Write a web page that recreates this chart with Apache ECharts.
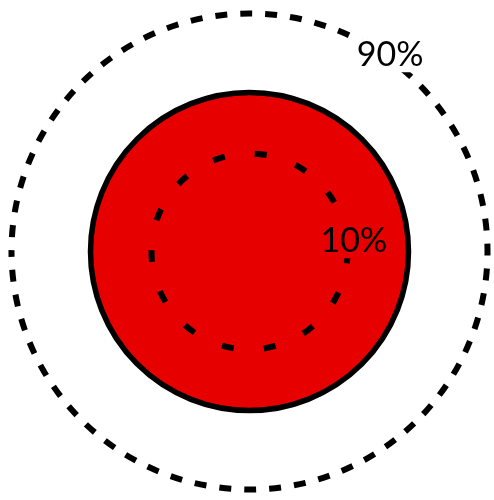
<!DOCTYPE html>
<html>
<head>
<meta charset="utf-8">
<script src="https://cdn.jsdelivr.net/npm/echarts@6/dist/echarts.min.js"></script>
<style>
  html, body { margin: 0; padding: 0; background: #fff; }
  #chart { width: 494px; height: 500px; }
</style>
</head>
<body>
<div id="chart"></div>
<script>
// Radii on a shared radial scale (0 .. 250)
const bandNames = ['10%', '90%'];
const bandRadii = [98, 238];          // dashed percentile rings
const bandLabelAngles = [6, 54.5];    // where each ring's label sits (degrees, counter-clockwise from 3 o'clock)
const valueRadius = [159];            // filled disc

const chart = echarts.init(document.getElementById('chart'), null, { renderer: 'canvas' });

const center = [249.5, 251.5];
const polarRadius = 250;
const RED = '#e60000';

// one polar system per layer: 0 = outer ring, 1 = disc, 2 = inner ring, 3 = labels
// (the ring start angle sets where each dashed outline begins)
const ringStart = [180, 0, 0];
const polars = [0, 1, 2, 3].map(() => ({ center: center, radius: polarRadius }));
const angleAxes = [0, 1, 2].map(i => ({
  polarIndex: i, type: 'category', data: ['all'], startAngle: ringStart[i], show: false
}));
angleAxes.push({ polarIndex: 3, type: 'value', min: 0, max: 360, startAngle: 0, clockwise: false, show: false });
const radiusAxes = [0, 1, 2, 3].map(i => ({ polarIndex: i, type: 'value', min: 0, max: 250, show: false }));

const ringStyle = (dash, offset) => ({
  color: 'rgba(0,0,0,0)',
  borderColor: '#000',
  borderWidth: 6,
  borderType: dash,
  borderDashOffset: offset
});

const discSeries = (name, polarIndex, data, itemStyle, z) => ({
  name: name,
  type: 'bar',
  coordinateSystem: 'polar',
  polarIndex: polarIndex,
  barWidth: '100%',
  data: data,
  itemStyle: itemStyle,
  silent: true,
  z: z
});

const labelOffsets = [[7, 0], [2.5, -2.5]];

chart.setOption({
  animation: false,
  backgroundColor: '#fff',
  polar: polars,
  angleAxis: angleAxes,
  radiusAxis: radiusAxes,
  series: [
    discSeries(bandNames[1], 0, [bandRadii[1]], ringStyle([12, 13], 10.6), 1),
    discSeries('value', 1, valueRadius, { color: RED, borderColor: '#000', borderWidth: 5.5 }, 2),
    discSeries(bandNames[0], 2, [bandRadii[0]], ringStyle([12, 30.4], 0), 3),
    {
      name: 'labels',
      type: 'scatter',
      coordinateSystem: 'polar',
      polarIndex: 3,
      symbolSize: 0,
      silent: true,
      z: 10,
      itemStyle: { opacity: 1 },
      data: bandNames.map((n, i) => ({
        name: n,
        value: [bandRadii[i], bandLabelAngles[i]],
        label: { backgroundColor: i === 0 ? RED : '#fff', offset: labelOffsets[i] }
      })),
      label: {
        show: true,
        position: 'inside',
        formatter: p => p.name,
        fontFamily: 'Lato',
        fontSize: 34,
        color: '#000',
        opacity: 1,
        padding: [0, 2]
      }
    }
  ]
});
</script>
</body>
</html>
